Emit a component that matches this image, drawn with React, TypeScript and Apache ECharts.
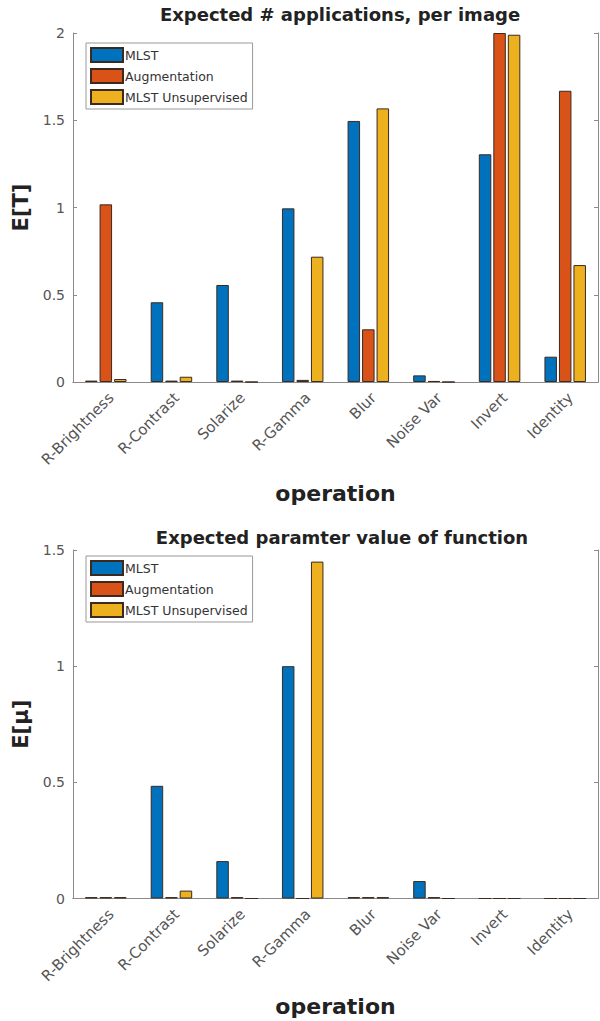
import React, { useEffect, useRef } from "react";
import * as echarts from "echarts";

const categories = ["R-Brightness", "R-Contrast", "Solarize", "R-Gamma", "Blur", "Noise Var", "Invert", "Identity"];
const seriesNames = ["MLST", "Augmentation", "MLST Unsupervised"];

// Top chart: Expected # applications, per image
const appsMLST = [0.008, 0.457, 0.556, 0.995, 1.496, 0.038, 1.305, 0.145];
const appsAug = [1.018, 0.008, 0.008, 0.012, 0.302, 0.006, 2.0, 1.669];
const appsUnsup = [0.017, 0.03, 0, 0.718, 1.568, 0, 1.99, 0.67];

// Bottom chart: Expected parameter value of function
const paramMLST = [0.006, 0.485, 0.161, 1.0, 0.006, 0.075, 0, 0];
const paramAug = [0.006, 0.006, 0.006, 0, 0.006, 0.006, 0, 0];
const paramUnsup = [0.006, 0.034, 0, 1.45, 0.006, 0, 0, 0];

const topTicks = { min: 0, max: 2, interval: 0.5 };
const bottomTicks = { min: 0, max: 1.5, interval: 0.5 };

const colors = ["#0072BD", "#D95319", "#EDB120"];
const FONT = "DejaVu Sans";

export default function App() {
  const ref = useRef<HTMLDivElement>(null);
  useEffect(() => {
    if (!ref.current) return;
    const chart = echarts.init(ref.current, null, { renderer: "svg" });
    const axisLineColor = "#8a8a8a";
    const labelColor = "#555";

    const xAxisMain = (gridIndex: number) => ({
      type: "category",
      gridIndex,
      data: categories,
      name: "operation",
      nameLocation: "middle",
      nameGap: gridIndex === 0 ? 100 : 97,
      nameTextStyle: { fontFamily: FONT, fontWeight: "bold", fontSize: 22, color: "#222" },
      axisLine: { lineStyle: { color: axisLineColor, width: 1 } },
      axisTick: { inside: true, alignWithLabel: true, length: 4, lineStyle: { color: axisLineColor } },
      axisLabel: {
        rotate: 45,
        fontFamily: FONT,
        fontSize: 15,
        color: labelColor,
        margin: 8,
        verticalAlign: "top",
      },
      splitLine: { show: false },
    });
    const xAxisTop = (gridIndex: number) => ({
      type: "category",
      gridIndex,
      data: categories,
      position: "top",
      axisLine: { lineStyle: { color: axisLineColor, width: 1 } },
      axisTick: { inside: true, alignWithLabel: true, length: 4, lineStyle: { color: axisLineColor } },
      axisLabel: { show: false },
      splitLine: { show: false },
    });
    const yAxisMain = (gridIndex: number, ticks: any, name: string) => ({
      type: "value",
      gridIndex,
      ...ticks,
      name,
      nameLocation: "middle",
      nameGap: 30,
      nameRotate: 90,
      nameTextStyle: { fontFamily: FONT, fontWeight: "bold", fontSize: 21, color: "#222" },
      axisLine: { show: true, lineStyle: { color: axisLineColor, width: 1 } },
      axisTick: { show: true, inside: true, length: 4, lineStyle: { color: axisLineColor } },
      axisLabel: { fontFamily: FONT, fontSize: 14, color: labelColor, margin: 8 },
      splitLine: { show: false },
    });
    const yAxisRight = (gridIndex: number, ticks: any) => ({
      type: "value",
      gridIndex,
      ...ticks,
      position: "right",
      axisLine: { show: true, lineStyle: { color: axisLineColor, width: 1 } },
      axisTick: { show: true, inside: true, length: 4, lineStyle: { color: axisLineColor } },
      axisLabel: { show: false },
      splitLine: { show: false },
    });

    const barSeries = (name: string, data: number[], idx: number, axisIdx: number) => ({
      type: "bar",
      name,
      data,
      xAxisIndex: axisIdx,
      yAxisIndex: axisIdx,
      barWidth: 12.5,
      barGap: "16%",
      itemStyle: { color: colors[idx], borderColor: "#3a2a20", borderWidth: 1 },
    });

    const legendCommon = {
      orient: "vertical",
      left: 86,
      data: seriesNames,
      icon: "rect",
      itemWidth: 32,
      itemHeight: 14,
      itemGap: 5,
      padding: [4, 5, 4, 4],
      borderColor: "#999",
      borderWidth: 1,
      backgroundColor: "#fff",
      textStyle: { fontFamily: FONT, fontSize: 12.5, color: "#333", padding: [0, 0, 0, -3] },
    };

    chart.setOption({
      animation: false,
      backgroundColor: "#fff",
      title: [
        {
          text: "Expected # applications, per image",
          left: 335,
          textAlign: "center",
          top: 0,
          textStyle: { fontFamily: FONT, fontWeight: "bold", fontSize: 18, color: "#222" },
        },
        {
          text: "Expected paramter value of function",
          left: 337,
          textAlign: "center",
          top: 523,
          textStyle: { fontFamily: FONT, fontWeight: "bold", fontSize: 18, color: "#222" },
        },
      ],
      legend: [
        { ...legendCommon, top: 43 },
        { ...legendCommon, top: 556 },
      ],
      grid: [
        { left: 73, top: 33, width: 525, height: 349, containLabel: false },
        { left: 73, top: 550, width: 525, height: 348.5, containLabel: false },
      ],
      xAxis: [xAxisMain(0), xAxisMain(1), xAxisTop(0), xAxisTop(1)],
      yAxis: [
        yAxisMain(0, topTicks, "E[T]"),
        yAxisMain(1, bottomTicks, "E[μ]"),
        yAxisRight(0, topTicks),
        yAxisRight(1, bottomTicks),
      ],
      series: [
        barSeries(seriesNames[0], appsMLST, 0, 0),
        barSeries(seriesNames[1], appsAug, 1, 0),
        barSeries(seriesNames[2], appsUnsup, 2, 0),
        barSeries(seriesNames[0], paramMLST, 0, 1),
        barSeries(seriesNames[1], paramAug, 1, 1),
        barSeries(seriesNames[2], paramUnsup, 2, 1),
      ],
    });
    return () => chart.dispose();
  }, []);
  return (
    <div
      ref={ref}
      style={{ position: "fixed", left: 0, top: 0, width: 600, height: 1021, background: "#fff" }}
    />
  );
}
